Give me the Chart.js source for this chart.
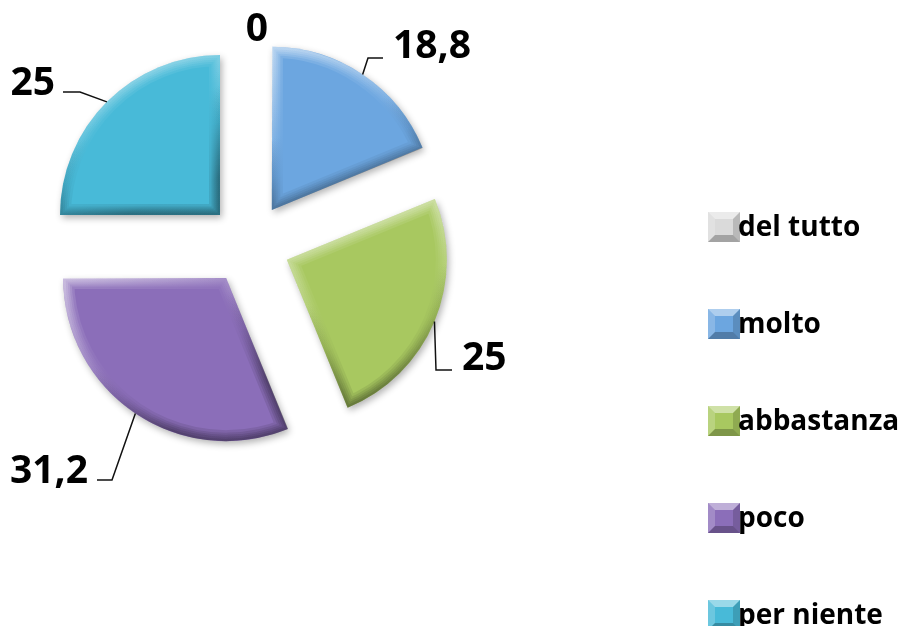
<!DOCTYPE html>
<html>
<head>
<meta charset="utf-8">
<script src="https://cdn.jsdelivr.net/npm/chart.js@4"></script>
<style>
  html, body { margin: 0; padding: 0; background: #fff; }
  #wrap { width: 901px; height: 626px; position: relative; }
</style>
</head>
<body>
<div id="wrap"><canvas id="chart"></canvas></div>
<script>
/* Pie chart: exploded slices, bevelled look, labels with leader lines */
var categories = ['del tutto', 'molto', 'abbastanza', 'poco', 'per niente'];
var values = [0, 18.8, 25, 31.2, 25];
var sliceColors = ['#DADADA', '#6CA6E0', '#A8C860', '#8B6EB9', '#48BAD8'];

// layout only (label text anchors and leader elbows), not data
var labelLayout = [
    { x: 257, y: 41, align: 'center', path: [] },
    { x: 393, y: 58, align: 'left', path: [[368, 58], [383, 58]] },
    { x: 462, y: 370, align: 'left', path: [[436, 370], [452, 370]] },
    { x: 88, y: 483, align: 'right', path: [[112, 480], [97, 480]] },
    { x: 55, y: 95, align: 'right', path: [[80, 92], [63, 92]] }
];
var LEGEND_X = 708, LEGEND_Y0 = 227, LEGEND_STEP = 97;
var FONT = '"Open Sans", "DejaVu Sans", sans-serif';

function fmtVal(v) { return String(v).replace('.', ','); }

// geometry of an arc as chart.js actually draws it (offset is /4 in v4)
function arcGeom(arc) {
    var p = arc.getProps(['x', 'y', 'startAngle', 'endAngle', 'outerRadius', 'circumference'], true);
    var off = (arc.options.offset || 0) / 4;
    var half = (p.startAngle + p.endAngle) / 2;
    var fix = 1 - Math.sin(Math.min(Math.PI, p.circumference || 0));
    return {
        cx: p.x + Math.cos(half) * off,
        cy: p.y + Math.sin(half) * off,
        r: p.outerRadius + off * fix,
        start: p.startAngle, end: p.endAngle, half: half,
        circ: p.circumference
    };
}

function slicePath(ctx, g) {
    ctx.beginPath();
    ctx.moveTo(g.cx, g.cy);
    ctx.arc(g.cx, g.cy, g.r, g.start, g.end);
    ctx.closePath();
}

var shadowPlugin = {
    id: 'shadow',
    beforeDatasetDraw: function (chart) {
        var ctx = chart.ctx;
        ctx.save();
        ctx.shadowColor = 'rgba(0,0,0,0.3)';
        ctx.shadowBlur = 7;
        ctx.shadowOffsetX = 2;
        ctx.shadowOffsetY = 3;
    },
    afterDatasetDraw: function (chart) {
        var ctx = chart.ctx;
        ctx.restore();
        chart.getDatasetMeta(0).data.forEach(function (arc) {
            var g = arcGeom(arc);
            if (!g.circ) return;
            var xs = [g.cx], ys = [g.cy];
            for (var k = 0; k <= 12; k++) {
                var a = g.start + (g.end - g.start) * k / 12;
                xs.push(g.cx + Math.cos(a) * g.r);
                ys.push(g.cy + Math.sin(a) * g.r);
            }
            var x0 = Math.min.apply(null, xs), x1 = Math.max.apply(null, xs);
            var y0 = Math.min.apply(null, ys), y1 = Math.max.apply(null, ys);
            ctx.save();
            slicePath(ctx, g);
            ctx.clip();
            var grad = ctx.createLinearGradient(x0, y0, x1 * 0.4 + x0 * 0.6, y1);
            grad.addColorStop(0, 'rgba(255,255,255,0.9)');
            grad.addColorStop(0.5, 'rgba(255,255,255,0.2)');
            grad.addColorStop(0.7, 'rgba(0,0,0,0.15)');
            grad.addColorStop(1, 'rgba(0,0,0,0.6)');
            ctx.lineJoin = 'miter';
            ctx.strokeStyle = grad;
            [22, 17, 13, 9, 5].forEach(function (lw) {
                slicePath(ctx, g);
                ctx.lineWidth = lw;
                ctx.globalAlpha = 0.16;
                ctx.stroke();
            });
            ctx.restore();
        });
    }
};

var labelPlugin = {
    id: 'valueLabels',
    afterDraw: function (chart) {
        var ctx = chart.ctx;
        var arcs = chart.getDatasetMeta(0).data;
        ctx.save();
        ctx.font = 'bold 39px ' + FONT;
        ctx.fillStyle = '#000';
        ctx.textBaseline = 'alphabetic';
        labelLayout.forEach(function (L, i) {
            var g = arcGeom(arcs[i]);
            if (L.path.length && g.circ) {
                ctx.beginPath();
                ctx.moveTo(g.cx + Math.cos(g.half) * g.r, g.cy + Math.sin(g.half) * g.r);
                L.path.forEach(function (pt) { ctx.lineTo(pt[0], pt[1]); });
                ctx.strokeStyle = '#111';
                ctx.lineWidth = 1.5;
                ctx.stroke();
            }
            ctx.textAlign = L.align;
            ctx.fillText(fmtVal(values[i]), L.x, L.y);
        });
        ctx.restore();
    }
};

var legendPlugin = {
    id: 'sideLegend',
    afterDraw: function (chart) {
        var ctx = chart.ctx;
        var w = 32, h = 30, ins = 7;
        ctx.save();
        categories.forEach(function (name, i) {
            var cy = LEGEND_Y0 + i * LEGEND_STEP;
            var x = LEGEND_X, y = cy - h / 2;
            ctx.fillStyle = sliceColors[i];
            ctx.fillRect(x, y, w, h);
            var faces = [
                [[x, y], [x + w, y], [x + w - ins, y + ins], [x + ins, y + ins], 'rgba(255,255,255,0.45)'],
                [[x, y], [x + ins, y + ins], [x + ins, y + h - ins], [x, y + h], 'rgba(255,255,255,0.2)'],
                [[x + w, y], [x + w, y + h], [x + w - ins, y + h - ins], [x + w - ins, y + ins], 'rgba(0,0,0,0.15)'],
                [[x, y + h], [x + ins, y + h - ins], [x + w - ins, y + h - ins], [x + w, y + h], 'rgba(0,0,0,0.25)']
            ];
            faces.forEach(function (f) {
                ctx.beginPath();
                ctx.moveTo(f[0][0], f[0][1]);
                for (var k = 1; k < 4; k++) ctx.lineTo(f[k][0], f[k][1]);
                ctx.closePath();
                ctx.fillStyle = f[4];
                ctx.fill();
            });
            ctx.fillStyle = '#000';
            ctx.font = 'bold 28px ' + FONT;
            ctx.textAlign = 'left';
            ctx.textBaseline = 'middle';
            ctx.fillText(name, x + 30, cy + 1);
        });
        ctx.restore();
    }
};

var canvas = document.getElementById('chart');
canvas.width = 901;
canvas.height = 626;

new Chart(canvas, {
    type: 'pie',
    data: {
        labels: categories,
        datasets: [{
            data: values,
            backgroundColor: sliceColors,
            borderWidth: 0,
            offset: 164,
            radius: 160
        }]
    },
    options: {
        responsive: false,
        animation: false,
        layout: { padding: { left: 0, top: 0, right: 403, bottom: 138 } },
        plugins: {
            legend: { display: false },
            tooltip: { enabled: false }
        }
    },
    plugins: [shadowPlugin, labelPlugin, legendPlugin]
});
</script>
</body>
</html>
